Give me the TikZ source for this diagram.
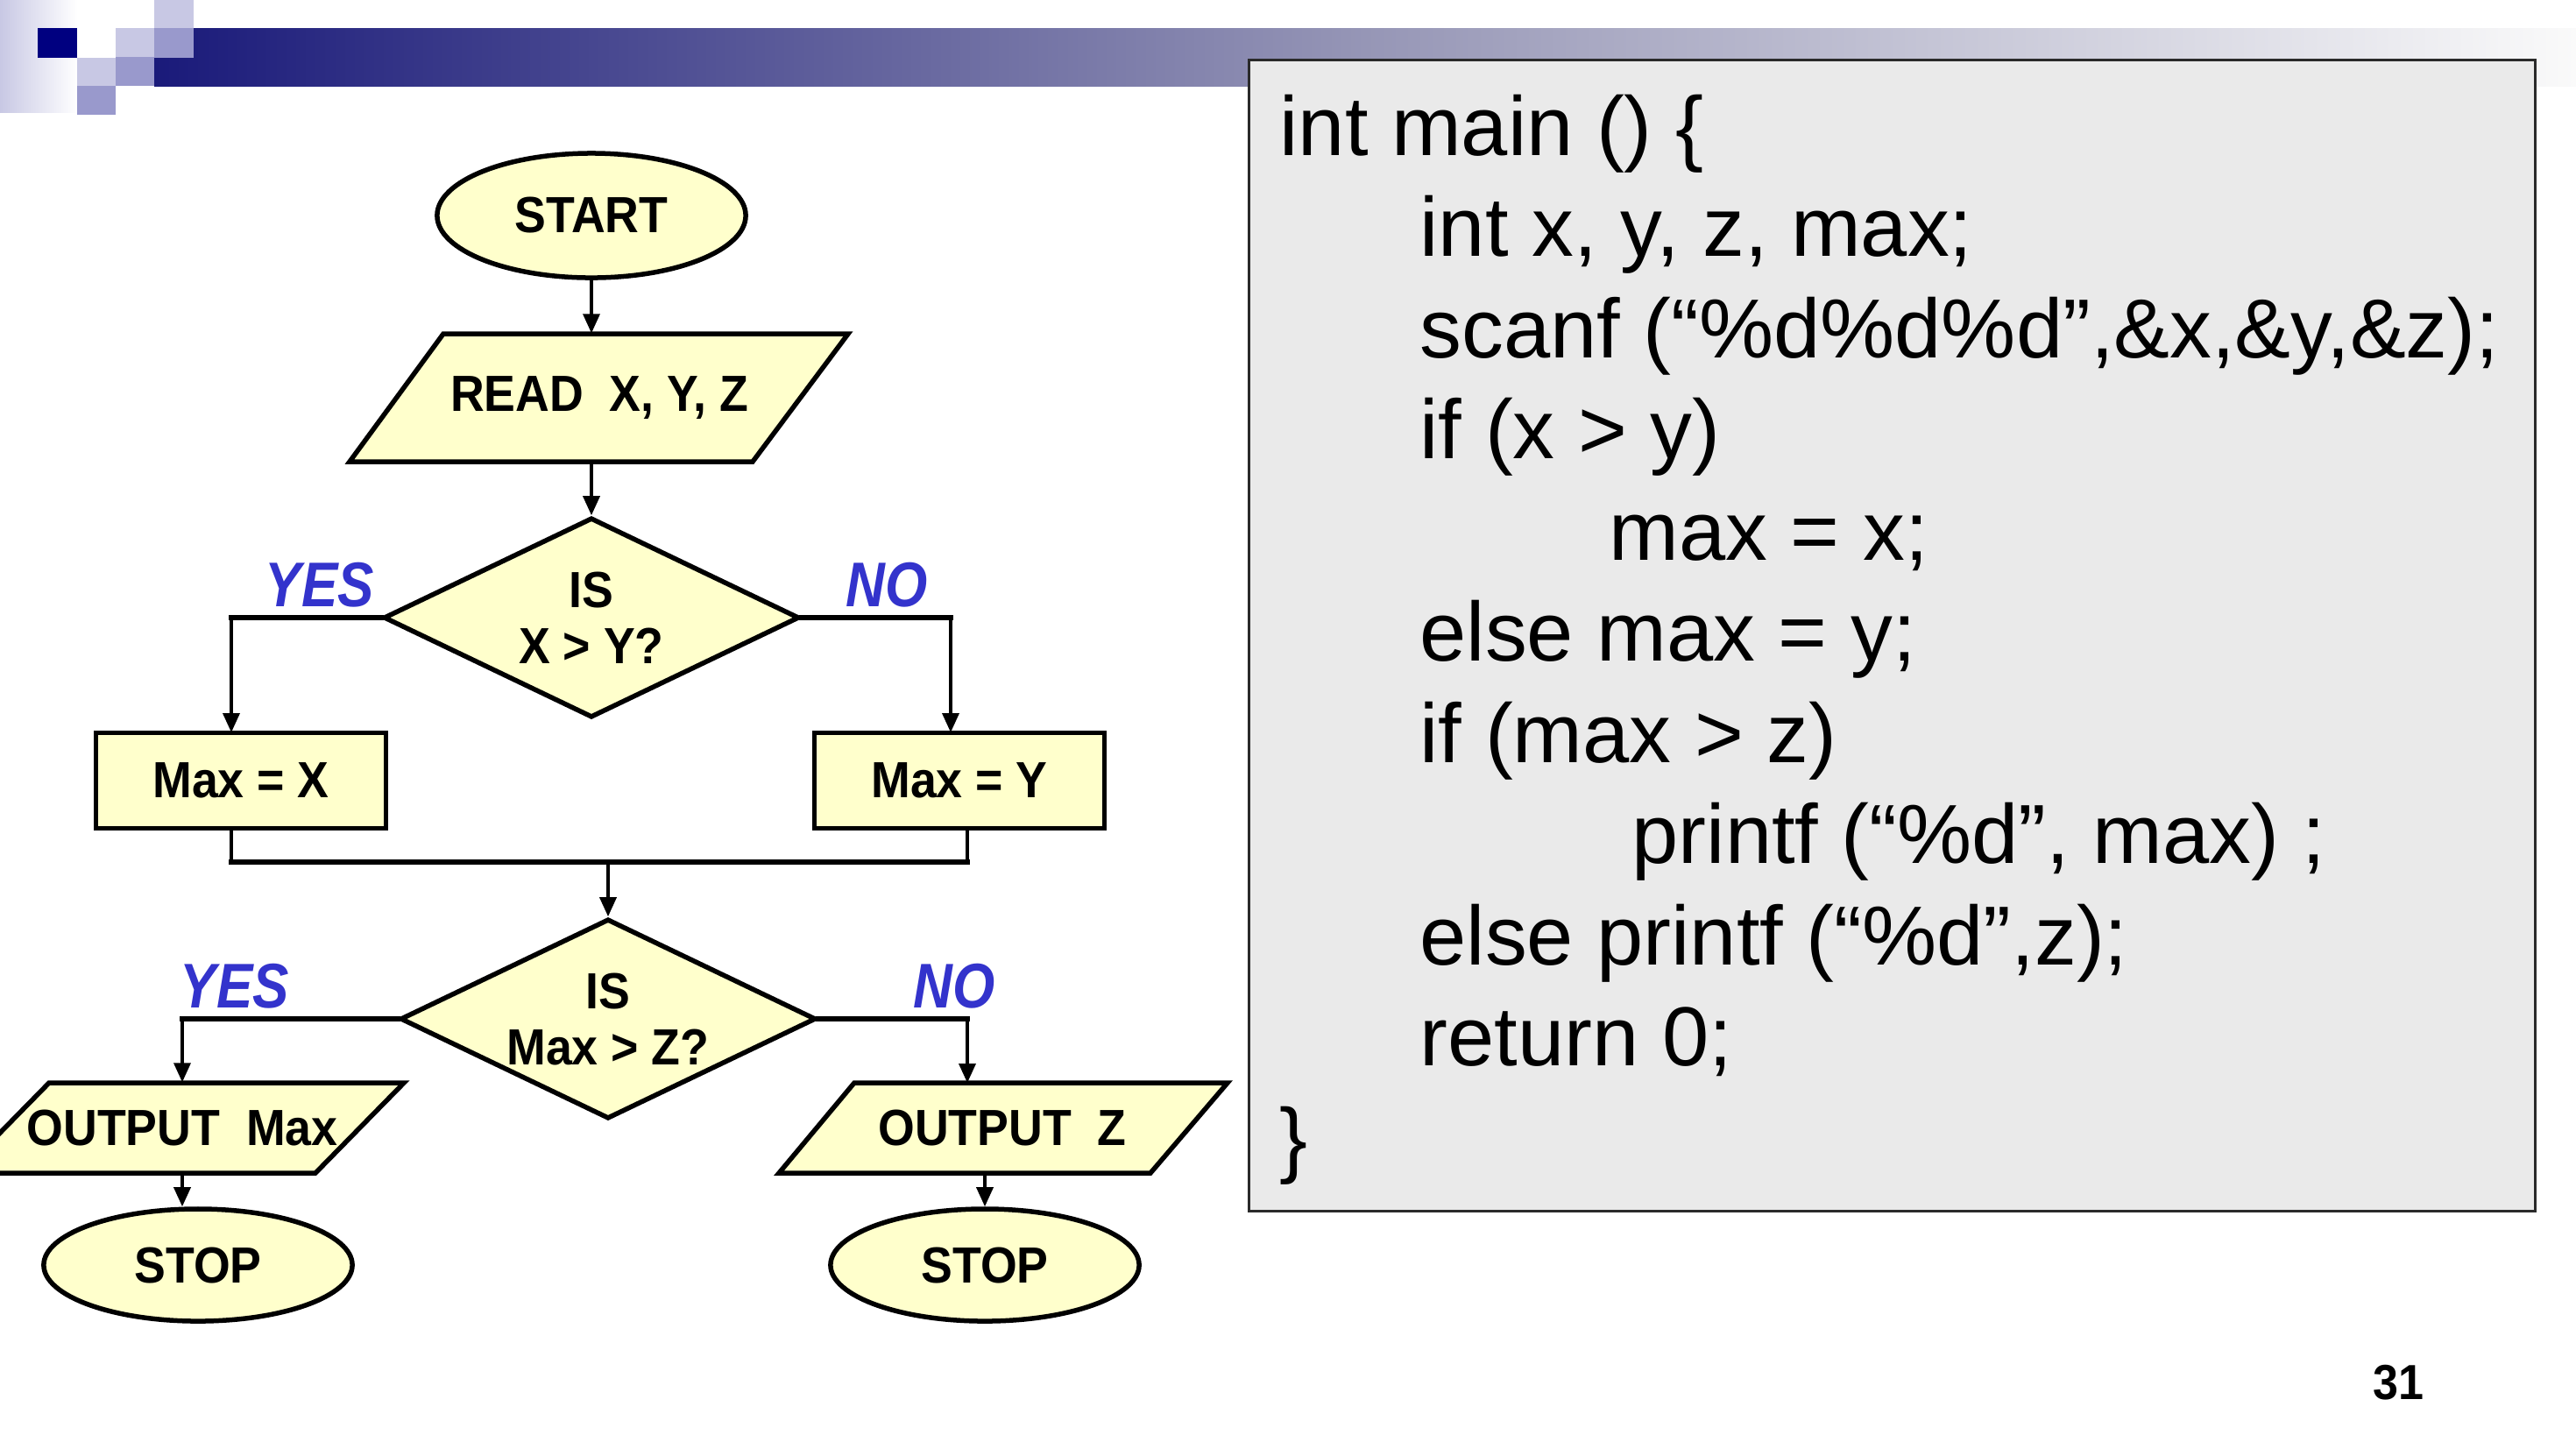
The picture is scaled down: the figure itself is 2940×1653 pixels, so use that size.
\documentclass[tikz,border=0pt]{standalone}
\usepackage{fontspec}
\setmainfont{Liberation Sans}
\newfontfamily\codefont{Liberation Sans}
\newfontfamily\flowfont[FakeStretch=0.925]{Liberation Sans}
\newfontfamily\lblfont[FakeStretch=0.86]{Liberation Sans}
\usetikzlibrary{shapes.geometric,arrows.meta}
\definecolor{fillY}{HTML}{FFFFCC}
\definecolor{lblblue}{HTML}{3333CC}
\definecolor{navy}{HTML}{000080}
\definecolor{barnavy}{HTML}{1A1A7A}
\definecolor{lavL}{HTML}{C8C8E4}
\definecolor{lavM}{HTML}{9999CC}
\definecolor{codebg}{HTML}{EAEAEA}
\definecolor{codeedge}{HTML}{2A2A2A}
\tikzset{
  fshape/.style={fill=fillY, draw=black, line width=0.055cm},
  ftext/.style={font=\flowfont\bfseries\fontsize{16.5}{18.2}\selectfont, align=center, inner sep=0pt},
  pgtext/.style={ftext, minimum height=1.03cm},
  conn/.style={line width=0.035cm},
  arr/.style={conn, -{Triangle[length=0.22cm,width=0.19cm]}},
  thickln/.style={line width=0.06cm, line cap=rect},
  lbl/.style={font=\lblfont\bfseries\itshape\fontsize{20.5}{20.5}\selectfont, text=lblblue, anchor=base, inner sep=0pt},
  codeline/.style={anchor=base west, font=\codefont\fontsize{27.2}{32}\selectfont, inner sep=0pt},
}
\begin{document}
\begin{tikzpicture}[x=0.01cm, y=-0.01cm]
\useasboundingbox (0,0) rectangle (2940,1653);
\fill[white] (0,0) rectangle (2940,1653);

% header decoration
\shade[left color=lavL, right color=white] (0,0) rectangle (88,128);
\shade[left color=barnavy, right color={rgb,255:red,250;green,250;blue,250}, middle color={rgb,255:red,150;green,150;blue,182}] (176,32) rectangle (2940,98);
\fill[navy] (43,32) rectangle (88,66);
\fill[lavL] (88,66) rectangle (132,98);
\fill[lavM] (88,98) rectangle (132,131);
\fill[lavL] (132,32) rectangle (176,65);
\fill[lavM] (132,65) rectangle (176,98);
\fill[lavL] (176,0) rectangle (221,32);
\fill[lavM] (176,32) rectangle (221,66);

% code box
\draw[fill=codebg, draw=codeedge, line width=0.03cm] (1425,68) rectangle (2893,1382);
\node[codeline] (c1) at (1460,177) {int main () \{};
\node[codeline] (c2) at (1620,292.5) {int x, y, z, max;};
\node[codeline] (c3) at (1620,408) {scanf (“\%d\%d\%d”,\&x,\&y,\&z);};
\node[codeline] (c4) at (1620,523.5) {if (x > y)};
\node[codeline] (c5) at (1836,639) {max = x;};
\node[codeline] (c6) at (1620,754.5) {else max = y;};
\node[codeline] (c7) at (1620,870) {if (max > z)};
\node[codeline] (c8) at (1862,985.5) {printf (“\%d”, max) ;};
\node[codeline] (c9) at (1620,1101) {else printf (“\%d”,z);};
\node[codeline] (c10) at (1620,1216.5) {return 0;};
\node[codeline] (c11) at (1460,1332) {\}};

% page number
\node[font=\flowfont\bfseries\fontsize{16}{16}\selectfont, anchor=base, inner sep=0pt] (pg) at (2737,1597) {31};

% flowchart
\node[fshape, ellipse, ftext, minimum width=3.52cm, minimum height=1.42cm] (start) at (675,246) {START};

\draw[fshape] (506,381) -- (968,381) -- (859,527) -- (399,527) -- cycle;
\node[ftext, minimum height=1.46cm] (read) at (684,454) {READ~~X, Y, Z};

\node[fshape, diamond, ftext, aspect=2.08, minimum width=4.74cm, minimum height=2.28cm] (d1) at (675,705) {IS\\X > Y?};

\node[fshape, rectangle, ftext, minimum width=3.31cm, minimum height=1.09cm] (mx) at (275,891) {Max = X};
\node[fshape, rectangle, ftext, minimum width=3.31cm, minimum height=1.09cm] (my) at (1095,891) {Max = Y};

\coordinate (merge) at (694,984);
\coordinate (mxin) at (264,836);
\coordinate (myin) at (1085,836);

\node[fshape, diamond, ftext, aspect=2.08, minimum width=4.74cm, minimum height=2.28cm] (d2) at (694,1163) {IS\\Max > Z?};

\draw[fshape] (56,1236) -- (461,1236) -- (360,1339) -- (-45,1339) -- cycle;
\node[pgtext] (out1) at (208,1287.5) {OUTPUT~~Max};
\draw[fshape] (975,1236) -- (1401,1236) -- (1313,1339) -- (889,1339) -- cycle;
\node[pgtext] (out2) at (1144,1287.5) {OUTPUT~~Z};
\coordinate (o2in) at (1104,1236);

\node[fshape, ellipse, ftext, minimum width=3.52cm, minimum height=1.28cm] (stop1) at (226,1444) {STOP};
\node[fshape, ellipse, ftext, minimum width=3.52cm, minimum height=1.28cm] (stop2) at (1124,1444) {STOP};

% labels
\node[lbl] (yes1) at (365,692) {YES};
\node[lbl] (no1) at (1012,692) {NO};
\node[lbl] (yes2) at (268,1150) {YES};
\node[lbl] (no2) at (1089,1150) {NO};

% connectors
\draw[arr] (start.south) -- (start.south |- read.north);
\draw[arr] (d1.north |- read.south) -- (d1.north);

\draw[thickln] (d1.west) -- (d1.west -| mxin);
\draw[arr] (d1.west -| mxin) -- (mxin);
\draw[thickln] (d1.east) -- (d1.east -| myin);
\draw[arr] (d1.east -| myin) -- (myin);

\draw[conn] (mx.south -| mxin) -- (mxin |- merge);
\draw[thickln] (mxin |- merge) -- (o2in |- merge);
\draw[conn] (o2in |- merge) -- (o2in |- my.south);
\draw[arr] (merge) -- (d2.north);

\draw[thickln] (d2.west) -- (d2.west -| out1.north);
\draw[arr] (d2.west -| out1.north) -- (out1.north);
\draw[thickln] (d2.east) -- (d2.east -| o2in);
\draw[arr] (d2.east -| o2in) -- (o2in);

\draw[arr] (out1.south) -- (out1.south |- stop1.north);
\draw[arr] (stop2.north |- out2.south) -- (stop2.north);
\end{tikzpicture}
\end{document}
